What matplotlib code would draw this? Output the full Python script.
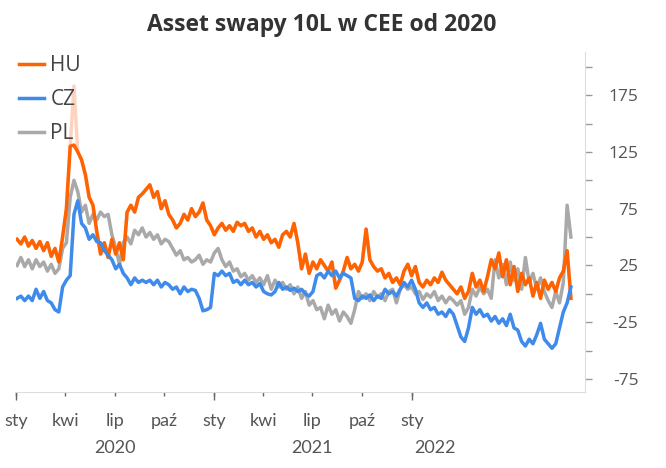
import matplotlib
matplotlib.use("Agg")
import matplotlib.pyplot as plt
import matplotlib.dates as mdates
import numpy as np
import pandas as pd

# weekly readings, 2020-01-03 .. 2022-10-21 (bp)
dates = pd.date_range("2020-01-03", periods=147, freq="7D")

hu = [48, 44, 50, 42, 47, 40, 46, 38, 45, 33, 40, 28, 50, 75, 130, 183, 125, 118, 105, 85,
      78, 55, 35, 45, 32, 48, 35, 45, 30, 72, 78, 72, 85, 88, 92, 96, 85, 90, 75, 82,
      70, 65, 58, 62, 70, 65, 75, 68, 72, 80, 65, 60, 52, 58, 62, 56, 60, 55, 63, 60,
      62, 55, 58, 50, 55, 48, 52, 45, 48, 41, 52, 55, 50, 62, 45, 22, 35, 18, 28, 22,
      30, 25, 20, 28, 5, 12, 20, 32, 22, 26, 20, 28, 57, 30, 24, 20, 22, 14, 18, 10,
      14, 8, 20, 26, 16, 24, 10, 6, 12, 8, 14, 10, 19, 12, 8, 4, 0, 6, -4, 2,
      18, 6, 12, 2, 15, 30, 22, 36, 15, 30, 8, 24, 2, 18, 8, 14, -2, 10, -4, 12,
      4, 10, 2, 14, 20, 38, -4]

cz = [-4, -2, -6, -2, -6, 4, -4, 2, -6, -8, -14, -16, 6, 12, 16, 70, 82, 62, 58, 48,
      52, 46, 45, 38, 34, 30, 22, 26, 18, 14, 8, 14, 10, 12, 10, 12, 8, 12, 6, 10,
      8, 4, 6, 0, 6, 2, 4, 3, -4, -15, -14, -12, 18, 16, 20, 16, 18, 10, 12, 8,
      12, 8, 10, 6, 9, 2, 0, -1, 2, 10, 4, 6, 3, 5, 2, 4, 0, -2, 2, 16,
      18, 14, 20, 16, 20, 14, 18, 16, 14, -4, -6, -2, -4, -1, -6, -2, -4, 4, 0, 2,
      -2, 4, 10, 6, 12, 4, -8, -12, -8, -14, -12, -18, -16, -20, -14, -18, -28, -38, -42, -30,
      -12, -18, -14, -20, -18, -24, -20, -26, -22, -28, -18, -30, -32, -42, -46, -40, -44, -36, -26, -40,
      -44, -48, -44, -30, -16, -8, 6]

pl = [25, 32, 24, 30, 22, 30, 24, 28, 20, 26, 18, 22, 40, 45, 85, 100, 90, 72, 78, 62,
      70, 65, 72, 68, 70, 52, 40, 26, 45, 50, 44, 56, 52, 58, 50, 54, 48, 52, 44, 48,
      46, 40, 34, 38, 30, 32, 28, 30, 34, 26, 30, 28, 36, 40, 30, 24, 28, 20, 22, 15,
      18, 12, 16, 10, 14, 8, 16, 4, 12, 6, 10, 4, 8, 0, 6, -4, 2, -10, -6, -14,
      -12, -22, -10, -18, -14, -24, -16, -20, -26, -14, 2, -4, 0, -6, 2, -3, 0, -6, 2, 4,
      -8, 4, 8, 4, 6, 0, 2, -5, 0, -3, 2, -6, -2, -8, -3, -6, -10, -6, -18, -12,
      4, -2, 6, 0, 4, -4, 30, 14, 26, 8, 28, 12, 22, 4, 32, 10, 18, 4, 14, 2,
      -6, -12, 2, -8, 10, 78, 50]

month_ticks = pd.date_range("2020-01-01", "2022-01-01", freq="3MS")
month_labels = ["sty", "kwi", "lip", "paź", "sty", "kwi", "lip", "paź", "sty"]
year_labels = ["2020", "2021", "2022"]
year_pos = pd.to_datetime(["2020-07-01", "2021-07-01", "2022-02-12"])

ORANGE = "#FF6200"
BLUE = "#3E8BEB"
GREY = "#A9A9A9"
PALE = "#FDD3C0"

plt.rcParams["font.family"] = ["Open Sans", "DejaVu Sans"]

fig = plt.figure(figsize=(6.66, 4.68), dpi=100)
ax = fig.add_axes([16 / 666, 1 - 392 / 468, (585 - 16) / 666, 340 / 468])

hu_arr = np.array(hu, dtype=float)
LW = 2.5
# the one-off spike is drawn pale, the rest of HU in full orange
ax.plot(dates, hu_arr, color=PALE, lw=LW, zorder=1)
l_pl, = ax.plot(dates, pl, color=GREY, lw=LW, zorder=2, label="PL")
l_cz, = ax.plot(dates, cz, color=BLUE, lw=LW, zorder=3, label="CZ")
l_hu, = ax.plot(dates, np.minimum(hu_arr, 131), color=ORANGE, lw=LW, zorder=2.5, label="HU")

ax.set_xlim(pd.Timestamp("2020-01-01"), pd.Timestamp("2022-11-16"))
ax.set_ylim(-86.5, 213)

# right value axis
ax.yaxis.tick_right()
yt = np.arange(-75, 201, 25)
ax.set_yticks(yt)
ax.set_yticklabels([str(v) if (v + 75) % 50 == 0 else "" for v in yt])
ax.tick_params(axis="y", direction="out", length=5, width=1, color="#999999",
               pad=33.5, labelsize=12.5, labelcolor="#555555")
for t in ax.get_yticklabels():
    t.set_horizontalalignment("right")

# date axis
ax.set_xticks(month_ticks)
ax.set_xticklabels(month_labels, fontfamily="Lato")
ax.xaxis.set_minor_locator(mdates.YearLocator())
ax.xaxis.remove_overlapping_locs = False
ax.tick_params(axis="x", which="major", length=3, width=1, color="#666666",
               pad=12, labelsize=13, labelcolor="#555555")
ax.tick_params(axis="x", which="minor", length=6, width=1, color="#666666")

for lab, pos in zip(year_labels, year_pos):
    ax.text(pos, -0.165, lab, transform=ax.get_xaxis_transform(), ha="center", va="center",
            fontsize=13, color="#555555", fontfamily="Lato")

for s in ["left", "top"]:
    ax.spines[s].set_visible(False)
for s in ["bottom", "right"]:
    ax.spines[s].set_color("#DDDDDD")

leg = ax.legend([l_hu, l_cz, l_pl], ["HU", "CZ", "PL"], loc="upper left",
                bbox_to_anchor=(0.0, 1.0), frameon=False, fontsize=15,
                handlelength=1.2, handletextpad=0.3, labelspacing=0.62,
                borderaxespad=0.0, borderpad=0.15)
for t in leg.get_texts():
    t.set_color("#444444")

fig.text(322 / 666, 1 - 25 / 468, "Asset swapy 10L w CEE od 2020", ha="center", va="center",
         fontsize=16.5, fontweight="bold", color="#333333")

fig.savefig("out.png", dpi=100)
